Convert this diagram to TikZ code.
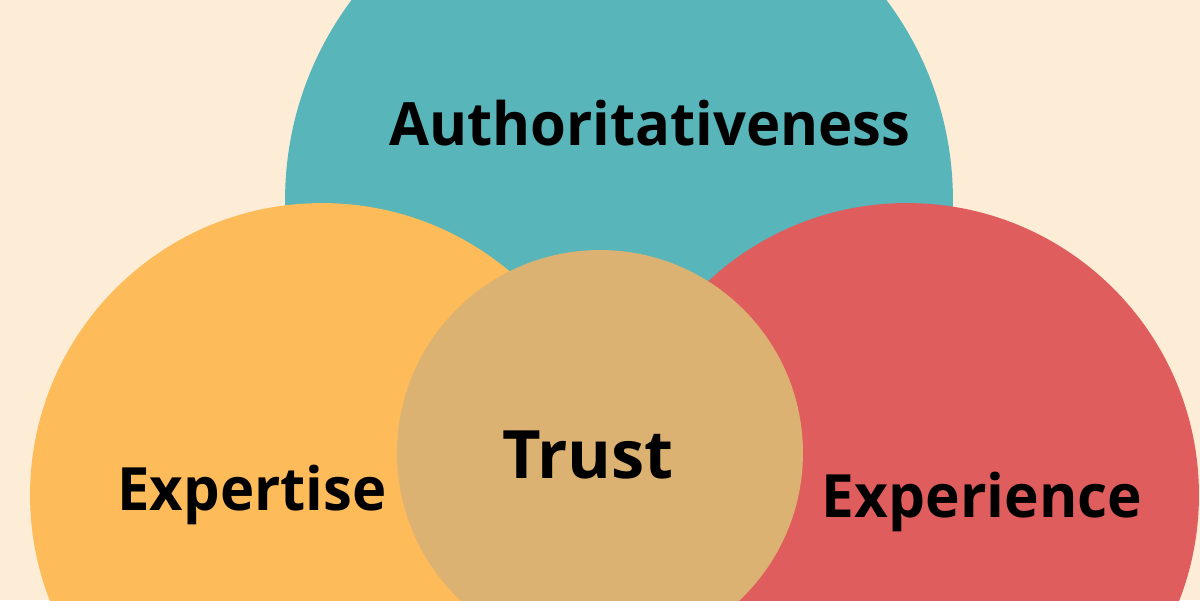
\documentclass[tikz,border=0pt]{standalone}
\usepackage{fontspec}
\setsansfont{Open Sans}
\usepackage{xcolor}
\usepackage{tikz}
\definecolor{bgbeige}{HTML}{FDECD6}
\definecolor{tealc}{HTML}{58B5B9}
\definecolor{orangec}{HTML}{FDBB59}
\definecolor{redc}{HTML}{E05D5D}
\definecolor{trustc}{HTML}{DCB272}

\begin{document}
\begin{tikzpicture}[x=0.02cm,y=-0.02cm,
    blob/.style={circle,inner sep=0pt,minimum size=#1},
    word/.style={font=\sffamily\bfseries\fontsize{34}{38}\selectfont,anchor=base,inner sep=0pt}]
    \useasboundingbox (0,0) rectangle (1200,600);
    \clip (0,0) rectangle (1200,600);
    \fill[bgbeige] (0,0) rectangle (1200,600);
    \node[blob=13.36cm,fill=tealc] (auth) at (619,200) {};
    \node[blob=11.68cm,fill=orangec] (expt) at (322,495) {};
    \node[blob=11.68cm,fill=redc] (expc) at (907,495) {};
    \node[blob=8.12cm,fill=trustc] (trust) at (600,453) {};
    \node[word,xscale=0.97] (authlbl) at (650,145) {Authoritativeness};
    \node[word,font=\sffamily\bfseries\fontsize{38}{42}\selectfont] (trustlbl) at (588,478) {Trust};
    \node[word,xscale=0.97] (exptlbl) at (252,510) {Expertise};
    \node[word,xscale=0.98] (expclbl) at (982,517) {Experience};
\end{tikzpicture}
\end{document}
